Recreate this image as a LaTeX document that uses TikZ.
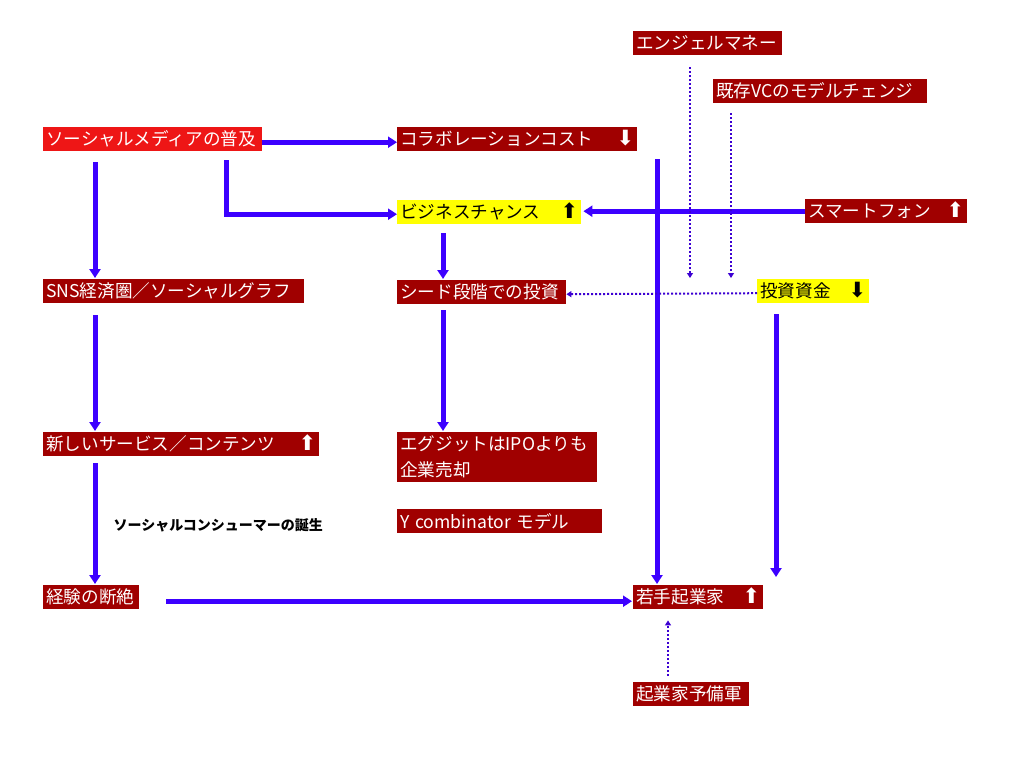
\documentclass[tikz,border=0pt]{standalone}
\usepackage{fontspec}
\setmainfont{Noto Sans CJK JP}
\newfontfamily\arrowfont{DejaVu Sans}
\usetikzlibrary{positioning,arrows.meta}

\definecolor{hotred}{RGB}{238,22,22}
\definecolor{darkred}{RGB}{160,0,0}
\definecolor{hiyellow}{RGB}{255,255,0}
\definecolor{flowblue}{RGB}{60,0,255}
\definecolor{dotblue}{RGB}{60,0,210}

\newcommand{\up}{\hfill\smash{\arrowfont\fontsize{21}{21}\selectfont ⬆}\hspace{4pt}}
\newcommand{\down}{\hfill\smash{\arrowfont\fontsize{21}{21}\selectfont ⬇}\hspace{4pt}}

\begin{document}
\begin{tikzpicture}[
  x=1pt, y=-1pt,
  font=\fontsize{17.6}{24}\selectfont,
  cell/.style={anchor=north west, inner xsep=3pt, inner ysep=0pt, minimum height=24pt, align=left},
  redbox/.style={cell, fill=hotred, text=white},
  darkbox/.style={cell, fill=darkred, text=white},
  yellowbox/.style={cell, fill=hiyellow, text=black},
  flow/.style={-{Triangle[length=9pt,width=11pt]}, draw=flowblue, line width=5pt},
  hint/.style={-{Triangle[length=5pt,width=6pt]}, draw=dotblue, line width=2pt, dotted},
]
  \useasboundingbox (0,0) rectangle (1024,768);

  % left column
  \node[redbox, text width=213pt] (media) at (43,127) {ソーシャルメディアの普及};
  \node[darkbox, text width=255pt] (sns) at (43,279) {SNS経済圏／ソーシャルグラフ};
  \node[darkbox, text width=270pt] (svc) at (43,432) {新しいサービス／コンテンツ\up};
  \node[darkbox, text width=90pt] (gap) at (43,585) {経験の断絶};
  \node[anchor=west, font=\fontsize{14}{16}\selectfont\bfseries] (birth) at (110,525) {ソーシャルコンシューマーの誕生};

  % middle column
  \node[darkbox, text width=234pt] (collab) at (397,127) {コラボレーションコスト\down};
  \node[yellowbox, text width=178pt] (biz) at (397,200) {ビジネスチャンス\up};
  \node[darkbox, text width=163pt] (seed) at (397,280) {シード段階での投資};
  \node[darkbox, text width=194pt, minimum height=50pt, font=\fontsize{17.6}{26}\selectfont] (exit) at (397,432) {エグジットはIPOよりも\\企業売却};
  \node[darkbox, text width=199pt] (yc) at (397,509) {Y combinator モデル};

  % right side
  \node[darkbox, text width=143pt] (angel) at (633,31) {エンジェルマネー};
  \node[darkbox, text width=208pt] (vc) at (713,79) {既存VCのモデルチェンジ};
  \node[darkbox, text width=156pt] (smart) at (805,199) {スマートフォン\up};
  \node[yellowbox, text width=106pt] (fund) at (757,279) {投資資金\down};
  \node[darkbox, text width=124pt] (young) at (633,585) {若手起業家\up};
  \node[darkbox, text width=110pt] (reserve) at (633,682) {起業家予備軍};

  \coordinate (fundout) at ([shift={(19pt,-11pt)}]fund.south west);
  \coordinate (angelout) at ([shift={(57pt,-12pt)}]angel.south west);
  \coordinate (vcout) at ([shift={(18pt,-10pt)}]vc.south west);
  \coordinate (collabout) at ([shift={(260pt,-8pt)}]collab.south west);

  \draw[flow] ([yshift=-3pt]media.east) -- ([yshift=-3pt]collab.west);
  \draw[flow] ([shift={(183pt,-9pt)}]media.south west) |- ([yshift=-2pt]biz.west);
  \draw[flow] ([shift={(52pt,-11pt)}]media.south west) -- ([shift={(52pt,1pt)}]sns.north west);
  \draw[flow] ([shift={(52pt,-12pt)}]sns.south west) -- ([shift={(52pt,1pt)}]svc.north west);
  \draw[flow] ([shift={(52pt,-7pt)}]svc.south west) -- ([shift={(52pt,1pt)}]gap.north west);
  \draw[flow] ([shift={(46pt,-9pt)}]biz.south west) -- ([shift={(46pt,1pt)}]seed.north west);
  \draw[flow] ([shift={(46pt,-6pt)}]seed.south west) -- ([shift={(46pt,1pt)}]exit.north west);
  \draw[flow] (smart.west) -- ([xshift=2pt]smart.west -| biz.east);
  \draw[flow] (collabout) -- ([shift={(24pt,1pt)}]young.north west);
  \draw[flow] (fundout) -- ([yshift=8pt]fundout |- young.north);
  \draw[flow] ([shift={(27pt,-4pt)}]gap.east) -- ([shift={(-1pt,-4pt)}]young.west);

  \draw[hint] (angelout) -- ([yshift=1pt]angelout |- fund.north);
  \draw[hint] (vcout) -- ([yshift=1pt]vcout |- fund.north);
  \draw[hint] ([yshift=-2pt]fund.west) -- ([yshift=-2pt]seed.east);
  \draw[hint] ([shift={(35pt,6pt)}]reserve.north west) -- ([shift={(35pt,-11pt)}]young.south west);
\end{tikzpicture}
\end{document}
